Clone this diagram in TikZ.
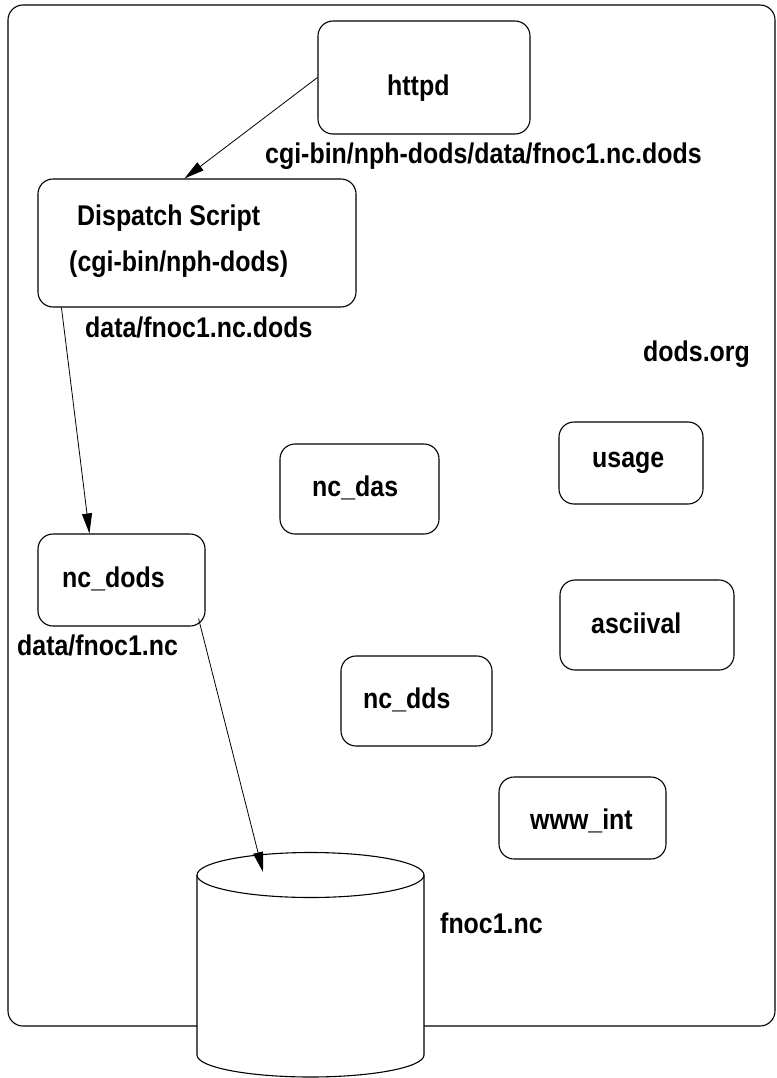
\documentclass[tikz,border=0pt]{standalone}
\usepackage{fontspec}
\setmainfont{Liberation Sans}[FakeStretch=0.875]
\usetikzlibrary{arrows.meta,calc}
\begin{document}
\begin{tikzpicture}[x=1pt,y=-1pt,
  box/.style={draw,line width=1.1pt,rounded corners=15pt,fill=white,inner sep=0pt},
  txt/.style={anchor=base west,inner sep=0pt,font=\fontsize{28.5}{32}\selectfont\bfseries},
  conn/.style={line width=0.8pt,-{Triangle[length=20pt,width=10pt]}}]
\useasboundingbox (0,0) rectangle (776,1078);
% outer frame
\draw[line width=1.1pt,rounded corners=15pt] (8,5) rectangle (775,1026);
% boxes
\node[box,minimum width=212pt,minimum height=113pt] (httpd) at (424,77.5) {};
\node[box,minimum width=318pt,minimum height=128pt] (disp) at (197,243) {};
\node[box,minimum width=167pt,minimum height=92pt] (ncdods) at (121.5,580) {};
\node[box,minimum width=159pt,minimum height=90pt] (ncdas) at (359.5,489) {};
\node[box,minimum width=144pt,minimum height=82pt] (usage) at (631,463) {};
\node[box,minimum width=174pt,minimum height=90pt] (asciival) at (647,625) {};
\node[box,minimum width=151pt,minimum height=90pt] (ncdds) at (416.5,701) {};
\node[box,minimum width=167pt,minimum height=82pt] (wwwint) at (582.5,818) {};
% cylinder
\draw[line width=1.1pt,fill=white] (197,875) -- (197,1055) arc(180:0:113.5 and 22) -- (424,875) arc(0:-180:113.5 and 22.5) -- cycle;
\draw[line width=1.1pt] (197,875) arc(180:0:113.5 and 22.5);
\coordinate (cyltop) at (263,872);
% texts
\node[txt] (t1) at (387,96) {httpd};
\node[txt] (t2) at (265,164) {cgi-bin/nph-dods/data/fnoc1.nc.dods};
\node[txt] (t3) at (77,225) {Dispatch Script};
\node[txt] (t4) at (69,271) {(cgi-bin/nph-dods)};
\node[txt] (t5) at (85,337) {data/fnoc1.nc.dods};
\node[txt] (t6) at (643,361) {dods.org};
\node[txt] (t7) at (592,467) {usage};
\node[txt] (t8) at (312,496) {nc\_das};
\node[txt] (t9) at (62,587) {nc\_dods};
\node[txt] (t10) at (591,633) {asciival};
\node[txt] (t11) at (17,655) {data/fnoc1.nc};
\node[txt] (t12) at (363,708) {nc\_dds};
\node[txt] (t13) at (530,829) {www\_int};
\node[txt] (t14) at (440,933) {fnoc1.nc};
% connectors
\draw[conn] (httpd.west) -- ([xshift=147pt]disp.north west);
\draw[conn] ([xshift=24pt]disp.south west) -- ([xshift=52pt]ncdods.north west);
\draw[conn] ([xshift=-7pt,yshift=8pt]ncdods.south east) -- (cyltop);
\end{tikzpicture}
\end{document}
